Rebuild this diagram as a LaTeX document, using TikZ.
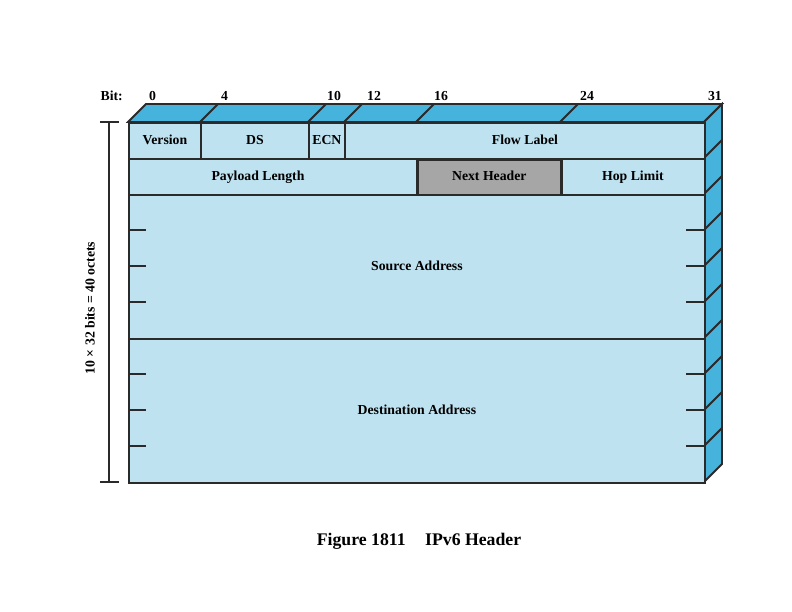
\documentclass[tikz,border=0pt]{standalone}
\usepackage{fontspec}
\setmainfont{Liberation Serif}
\definecolor{frontc}{HTML}{BEE2EF}
\definecolor{sidec}{HTML}{46B3DC}
\definecolor{grayc}{HTML}{A6A6A6}
\definecolor{linec}{HTML}{2A2A2A}
\tikzset{
  field/.style={draw=linec, line width=1.8pt, fill=frontc, inner sep=0pt, anchor=north west, font=\bfseries\fontsize{13.8}{15}\selectfont, text height=9.5bp, text depth=2.5bp},
  flbl/.style={inner sep=0pt, font=\bfseries\fontsize{13.8}{15}\selectfont, text height=9.5bp, text depth=2.5bp},
  bitlbl/.style={font=\bfseries\fontsize{13.8}{15}\selectfont, inner sep=0pt, anchor=base west},
  edge/.style={draw=linec, line width=1.8pt},
  tick/.style={draw=linec, line width=1.8pt},
}
\begin{document}
\begin{tikzpicture}[x=1bp,y=-1bp]
\useasboundingbox (0,0) rectangle (792,612);
% top face
\draw[edge, fill=sidec, line join=miter] (128,122) -- (146,104) -- (722,104) -- (704,122) -- cycle;
% right face
\draw[edge, fill=sidec] (704,122) -- (722,104) -- (722,464) -- (704,482) -- cycle;
% slashes on top face
\foreach \b in {4,10,12,16,24} {
  \draw[edge] ({128+18*\b},122) -- ({146+18*\b},104);
}
% slashes on right face
\foreach \r in {1,...,9} {
  \draw[edge] (704,{122+36*\r}) -- (722,{104+36*\r});
}
% front face fields
\node[field, minimum width=72bp, minimum height=36bp] (version) at (128,122) {Version};
\node[field, minimum width=108bp, minimum height=36bp] (ds) at (200,122) {DS};
\node[field, minimum width=36bp, minimum height=36bp] (ecn) at (308,122) {ECN};
\node[field, minimum width=360bp, minimum height=36bp] (flow) at (344,122) {Flow Label};
\node[field, minimum width=288bp, minimum height=36bp] (payload) at (128,158) {};
\node[flbl] (payloadlbl) at (258,177) {Payload Length};
\node[field, minimum width=144bp, minimum height=36bp] (hop) at (560,158) {Hop Limit};
\node[field, minimum width=144bp, minimum height=36bp, fill=grayc, line width=2.6pt] (next) at (416,158) {Next Header};
\node[field, minimum width=576bp, minimum height=144bp] (src) at (128,194) {Source Address};
\node[field, minimum width=576bp, minimum height=144bp] (dst) at (128,338) {Destination Address};
% ticks
\foreach \y in {230,266,302,374,410,446} {
  \draw[tick] (128,\y) -- (146,\y);
  \draw[tick] (686,\y) -- (704,\y);
}
% bit labels
\node[bitlbl, anchor=base east] (bitlabel) at (123,101) {Bit:};
\node[bitlbl] (b0) at (149,101) {0};
\node[bitlbl] (b4) at (221,101) {4};
\node[bitlbl] (b10) at (327,101) {10};
\node[bitlbl] (b12) at (367,101) {12};
\node[bitlbl] (b16) at (434,101) {16};
\node[bitlbl] (b24) at (580,101) {24};
\node[bitlbl, anchor=base east] (b31) at (722,101) {31};
% dimension line
\coordinate (dtop) at (109,122);
\coordinate (dbot) at (109,482);
\draw[edge] (dtop) -- (dbot);
\draw[edge] (100,122) -- (119,122);
\draw[edge] (100,482) -- (119,482);
\node[rotate=90, font=\bfseries\fontsize{13.8}{15}\selectfont, inner sep=0pt] (dimlbl) at (90,308) {10 × 32 bits = 40 octets};
% caption
\node[font=\bfseries\fontsize{17.8}{20}\selectfont, inner sep=0pt] (caption) at (419,541) {Figure 1811\hspace{1.1em}IPv6 Header};
\end{tikzpicture}
\end{document}
